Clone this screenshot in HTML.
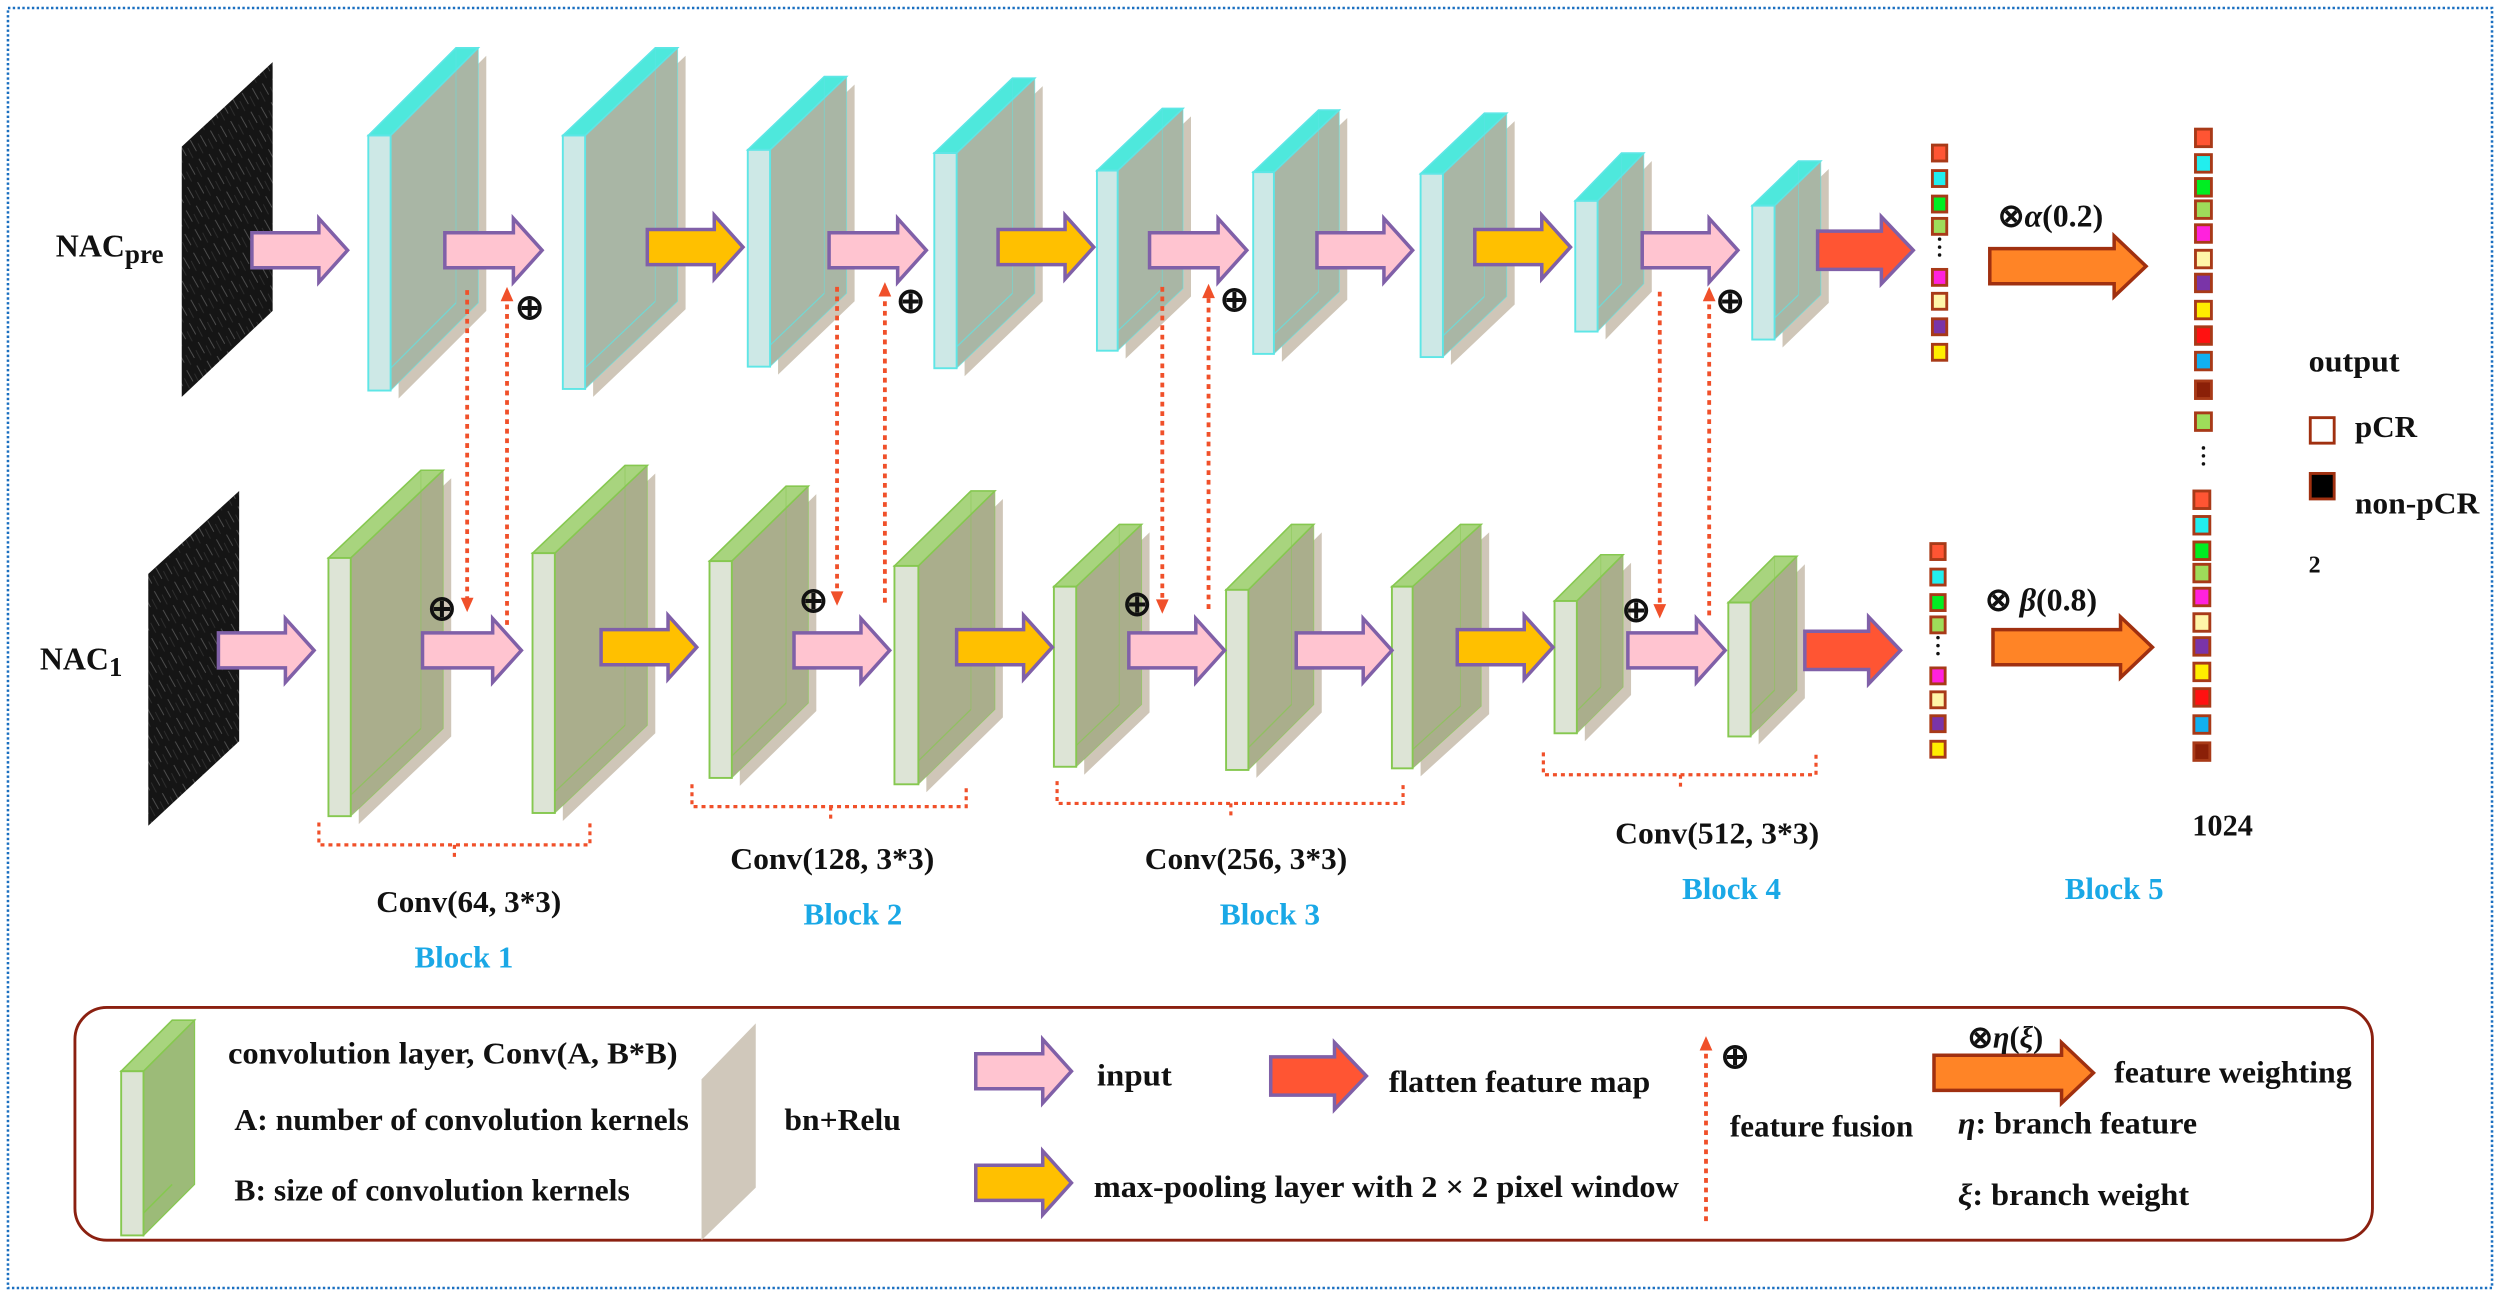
<!DOCTYPE html>
<html><head><meta charset="utf-8">
<style>
html,body{margin:0;padding:0;background:#fff;}
svg{display:block;}
text{font-family:"Liberation Serif",serif;font-weight:bold;fill:#111;}
.b{fill:#1aa8e6;}
</style></head>
<body>
<svg id="s" width="2500" height="1296" viewBox="0 0 1568 813" preserveAspectRatio="none" xmlns="http://www.w3.org/2000/svg">
<defs>
<pattern id="tex" width="7" height="13" patternUnits="userSpaceOnUse" patternTransform="rotate(-25)">
<rect width="7" height="13" fill="#151515"/><line x1="1" y1="0" x2="1.6" y2="8" stroke="#5a5a5a" stroke-width="0.5"/><line x1="4.5" y1="4" x2="4.8" y2="11" stroke="#333" stroke-width="0.5"/>
</pattern>
</defs>
<rect x="5" y="5" width="1558" height="803" fill="none" stroke="#1a6fc0" stroke-width="1.6" stroke-dasharray="1.5,1.5"/>

<polygon points="114,92 171,39 171,195 114,249" fill="url(#tex)"/>
<polygon points="93,360 150,308 150,465 93,518" fill="url(#tex)"/>
<text x="35" y="161" font-size="20">NAC<tspan font-size="17" dy="4">pre</tspan></text>
<text x="25" y="420" font-size="20">NAC<tspan font-size="17" dy="4">1</tspan></text>

<g id="shapes"></g>

<g font-size="22" font-weight="normal">
<text x="323" y="200">⊕</text><text x="268" y="389">⊕</text>
<text x="562" y="196">⊕</text><text x="501" y="384">⊕</text>
<text x="765" y="195">⊕</text><text x="704" y="386">⊕</text>
<text x="1076" y="196">⊕</text><text x="1017" y="390">⊕</text>
</g>

<text x="1253" y="142" font-size="20">⊗<tspan font-style="italic">α</tspan>(0.2)</text>
<text x="1245" y="383" font-size="20">⊗ <tspan font-style="italic">β</tspan>(0.8)</text>

<g font-size="19" lengthAdjust="spacingAndGlyphs">
<text x="1448" y="233" textLength="57" lengthAdjust="spacingAndGlyphs">output</text>
<text x="1477" y="274" textLength="39" lengthAdjust="spacingAndGlyphs">pCR</text>
<text x="1477" y="322" textLength="78" lengthAdjust="spacingAndGlyphs">non-pCR</text>
<text x="1375" y="524" textLength="38" lengthAdjust="spacingAndGlyphs">1024</text>
</g>
<rect x="1449" y="262" width="15" height="16" fill="#fff" stroke="#a03010" stroke-width="1.8"/>
<rect x="1449" y="297" width="15" height="16" fill="#000" stroke="#a03010" stroke-width="1.8"/>
<text x="1448" y="359" font-size="15" font-weight="normal">2</text>

<g font-size="19">
<text x="236" y="572" textLength="116" lengthAdjust="spacingAndGlyphs">Conv(64, 3*3)</text>
<text class="b" x="260" y="607" textLength="62" lengthAdjust="spacingAndGlyphs">Block 1</text>
<text x="458" y="545" textLength="128" lengthAdjust="spacingAndGlyphs">Conv(128, 3*3)</text>
<text class="b" x="504" y="580" textLength="62" lengthAdjust="spacingAndGlyphs">Block 2</text>
<text x="718" y="545" textLength="127" lengthAdjust="spacingAndGlyphs">Conv(256, 3*3)</text>
<text class="b" x="765" y="580" textLength="63" lengthAdjust="spacingAndGlyphs">Block 3</text>
<text x="1013" y="529" textLength="128" lengthAdjust="spacingAndGlyphs">Conv(512, 3*3)</text>
<text class="b" x="1055" y="564" textLength="62" lengthAdjust="spacingAndGlyphs">Block 4</text>
<text class="b" x="1295" y="564" textLength="62" lengthAdjust="spacingAndGlyphs">Block 5</text>
</g>

<rect x="47" y="632" width="1441" height="146" rx="20" ry="20" fill="none" stroke="#8b2010" stroke-width="1.8"/>
<polygon points="440,677 474,642 474,745 440,778" fill="#d0c8bb"/>
<g font-size="19">
<text x="143" y="667" textLength="282" lengthAdjust="spacingAndGlyphs">convolution layer,  Conv(A, B*B)</text>
<text x="147" y="709" textLength="285" lengthAdjust="spacingAndGlyphs">A: number of convolution kernels</text>
<text x="147" y="753" textLength="248" lengthAdjust="spacingAndGlyphs">B: size of convolution kernels</text>
<text x="492" y="709" textLength="73" lengthAdjust="spacingAndGlyphs">bn+Relu</text>
<text x="688" y="681" textLength="47" lengthAdjust="spacingAndGlyphs">input</text>
<text x="871" y="685" textLength="164" lengthAdjust="spacingAndGlyphs">flatten feature map</text>
<text x="686" y="751" textLength="367" lengthAdjust="spacingAndGlyphs">max-pooling layer with 2 × 2 pixel window</text>
<text x="1085" y="713" textLength="115" lengthAdjust="spacingAndGlyphs">feature fusion</text>
<text x="1326" y="679" textLength="149" lengthAdjust="spacingAndGlyphs">feature weighting</text>
<text x="1228" y="711" textLength="150" lengthAdjust="spacingAndGlyphs"><tspan font-style="italic">η</tspan>: branch feature</text>
<text x="1228" y="756" textLength="145" lengthAdjust="spacingAndGlyphs"><tspan font-style="italic">ξ</tspan>: branch weight</text>
<text x="1234" y="657" font-weight="normal">⊗<tspan font-style="italic">η</tspan>(<tspan font-style="italic">ξ</tspan>)</text>
<text x="1079" y="670" font-size="22" font-weight="normal">⊕</text>
</g>
</svg>
<script>
var g=document.getElementById('shapes');
var NS='http://www.w3.org/2000/svg';
function el(t,a){var e=document.createElementNS(NS,t);for(var k in a)e.setAttribute(k,a[k]);g.appendChild(e);return e;}
function P(pts){return pts.map(function(p){return p[0].toFixed(1)+','+p[1].toFixed(1)}).join(' ');}
function slab(x,w,t,b,dx,dy,top){
 var body=top?'#a9b6a5':'#aaae8c',front=top?'#cde8e6':'#dde4d6',tf=top?'#4ee8dc':'#a8d47e',st=top?'#5ee6e6':'#86c850';
 var X=x+w;
 el('polygon',{points:P([[X+5,t+5],[X+dx+5,t-dy+5],[X+dx+5,b-dy+5],[X+5,b+5]]),fill:'#cfc6b8'});
 el('polygon',{points:P([[X,t],[X+dx,t-dy],[X+dx,b-dy],[X,b]]),fill:body,stroke:st,'stroke-width':0.6,'stroke-opacity':0.6});
 el('polygon',{points:P([[x,t],[x+dx,t-dy],[X+dx,t-dy],[X,t]]),fill:tf,stroke:st,'stroke-width':1});
 el('line',{x1:x+dx,y1:b-dy,x2:x,y2:b,stroke:st,'stroke-width':0.8,'stroke-opacity':0.7});
 el('line',{x1:x+dx,y1:t-dy,x2:x+dx,y2:b-dy,stroke:st,'stroke-width':0.6,'stroke-opacity':0.5});
 el('rect',{x:x,y:t,width:w,height:b-t,fill:front,stroke:st,'stroke-width':1.2});
}
var T=[[231,14,85,245,55,55],[353,14,85,244,58,55],[469,14,94,230,48,46],[586,14,96,231,49,47],[688,13,107,220,41,39],[786,13,108,222,41,39],[891,14,109,224,40,38],[988,14,126,208,29,30],[1099,14,129,213,29,28]];
var B=[[206,14,350,512,58,55],[334,14,347,510,58,55],[445,14,352,488,48,47],[561,15,355,492,48,47],[661,14,368,481,41,39],[769,14,370,483,41,41],[873,13,368,482,43,39],[975,14,377,460,29,29],[1084,14,378,462,29,29]];
T.forEach(function(a){slab(a[0],a[1],a[2],a[3],a[4],a[5],true)});
B.forEach(function(a){slab(a[0],a[1],a[2],a[3],a[4],a[5],false)});
function arrow(x1,x2,y,fill,stroke,sh,hh,hl){
 sh=sh||11;hh=hh||20;hl=hl||18;
 el('polygon',{points:P([[x1,y-sh],[x2-hl,y-sh],[x2-hl,y-hh],[x2,y],[x2-hl,y+hh],[x2-hl,y+sh],[x1,y+sh]]),fill:fill,stroke:stroke,'stroke-width':2.2,'stroke-linejoin':'miter'});
}
var pk='#ffc4d0',yl='#ffc000',rd='#ff5533',pu='#8060a8';
[[158,218],[279,340],[520,581],[721,782],[826,886],[1030,1090]].forEach(function(a){arrow(a[0],a[1],157,pk,pu)});
[[406,466],[626,686],[925,985]].forEach(function(a){arrow(a[0],a[1],155,yl,pu)});
arrow(1140,1200,157,rd,pu,12,21,20);
[[137,197],[265,327],[498,558],[708,768],[813,873],[1021,1082]].forEach(function(a){arrow(a[0],a[1],408,pk,pu)});
[[377,437],[600,660],[914,974]].forEach(function(a){arrow(a[0],a[1],406,yl,pu)});
arrow(1132,1192,408,rd,pu,12,21,20);
arrow(1248,1346,167,'#ff8426','#a03010',11,19,20);
arrow(1250,1350,406,'#ff8426','#a03010',11,19,20);
arrow(612,672,672,pk,pu);
arrow(797,857,675,rd,pu,12,21,20);
arrow(612,672,742,yl,pu);
arrow(1213,1313,673,'#ff8426','#a03010',11,19,20);
function dline(x,y1,y2){
 var dir=y2>y1?1:-1;
 el('line',{x1:x,y1:y1,x2:x,y2:y2-dir*8,stroke:'#f0502a','stroke-width':2.4,'stroke-dasharray':'3,3'});
 el('polygon',{points:P([[x-4,y2-dir*9],[x+4,y2-dir*9],[x,y2]]),fill:'#f0502a'});
}
dline(293,182,384);dline(318,392,180);
dline(525,180,380);dline(555,378,177);
dline(729,180,385);dline(758,382,178);
dline(1041,183,388);dline(1072,386,180);
dline(1070,766,650);
function brace(x1,x2,y,yt,cx,cy){
 var o={stroke:'#f0502a','stroke-width':2,'stroke-dasharray':'2.5,2.5',fill:'none'};
 var p=el('polyline',o);p.setAttribute('points',P([[x1,yt],[x1,y],[x2,y],[x2,yt]]));
 var l=el('line',o);l.setAttribute('x1',cx);l.setAttribute('x2',cx);l.setAttribute('y1',y);l.setAttribute('y2',cy);
}
brace(200,370,530,516,285,539);
brace(434,606,506,492,521,514);
brace(663,880,504,490,772,512);
brace(968,1139,486,472,1054,494);
var br='#a83a18';
function sq(x,y,c,w,h){el('rect',{x:x,y:y,width:w||9,height:h||10,fill:c,stroke:br,'stroke-width':1.8});}
function dots(x,y){for(var i=0;i<3;i++)el('circle',{cx:x,cy:y+i*5,r:1.1,fill:'#111'});}
var c8=['#ff5533','#22eeee','#00ee22','#9edc5a',null,'#ff22dd','#fff5a8','#7a34a8','#ffee00'];
var yt=[91,107,123,137,0,169,184,200,216];
c8.forEach(function(c,i){if(c)sq(1212,yt[i],c);});dots(1216.5,150);
var yb=[341,357,373,387,0,419,434,449,465];
c8.forEach(function(c,i){if(c)sq(1211,yb[i],c);});dots(1215.5,400);
var cl=['#ff5533','#22eeee','#00ee22','#9edc5a','#ff22dd','#fff5a8','#7a34a8','#ffee00','#ff1111','#11b0f0','#8b2008','#9edc5a'];
var yl1=[81,97,112,126,141,157,172,189,205,221,239,259];
cl.forEach(function(c,i){sq(1377,yl1[i],c,10,11);});dots(1382,281);
var cl2=['#ff5533','#22eeee','#00ee22','#9edc5a','#ff22dd','#fff5a8','#7a34a8','#ffee00','#ff1111','#11b0f0','#8b2008'];
var yl2=[308,324,340,354,369,385,400,416,432,449,466];
cl2.forEach(function(c,i){sq(1376,yl2[i],c,10,11);});
(function(){
 var x=76,w=14,t=672,b=775,dx=32,dy=32;
 el('polygon',{points:P([[x+w,t],[x+w+dx,t-dy],[x+w+dx,b-dy],[x+w,b]]),fill:'#9cbb78',stroke:'#86c850','stroke-width':0.8});
 el('polygon',{points:P([[x,t],[x+dx,t-dy],[x+w+dx,t-dy],[x+w,t]]),fill:'#a8d47e',stroke:'#86c850','stroke-width':1});
 el('line',{x1:x+dx,y1:b-dy,x2:x,y2:b,stroke:'#86c850','stroke-width':1});
 el('rect',{x:x,y:t,width:w,height:b-t,fill:'#dde4d6',stroke:'#86c850','stroke-width':1.2});
})();
</script>
</body></html>
